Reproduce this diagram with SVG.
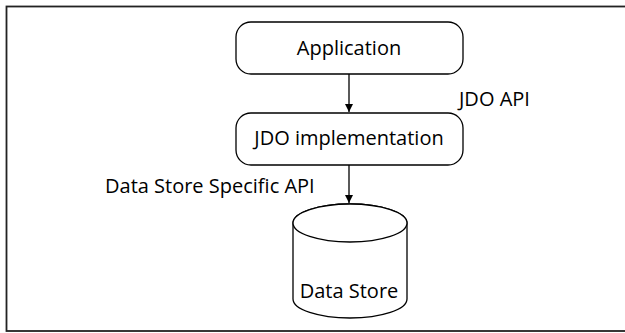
<svg xmlns="http://www.w3.org/2000/svg" width="625" height="333" viewBox="0 0 625 333">
<style>
.box{fill:#fff;stroke:#000;stroke-width:1.3}
.t{font-family:"Open Sans","Liberation Sans",sans-serif;font-size:20px;fill:#000}
.c{text-anchor:middle}
.ln{stroke:#000;stroke-width:1.3;fill:none}
</style>
<defs>
<marker id="ah" markerWidth="8" markerHeight="10" refX="8" refY="5" orient="auto" markerUnits="userSpaceOnUse">
<path d="M0,1 L8,5 L0,9 Z" fill="#000"/>
</marker>
</defs>
<rect x="6.5" y="6.5" width="630" height="324.5" fill="#fff" stroke="#222" stroke-width="1.8"/>
<g id="connectors">
<line class="ln" x1="349" y1="74" x2="349" y2="112" marker-end="url(#ah)"/>
<line class="ln" x1="349" y1="165" x2="349" y2="203" marker-end="url(#ah)"/>
<text class="t" x="459" y="106">JDO API</text>
<text class="t" x="105" y="193">Data Store Specific API</text>
</g>
<g id="application">
<rect class="box" x="236" y="22" width="227" height="52" rx="15"/>
<text class="t c" x="349" y="55">Application</text>
</g>
<g id="jdo-implementation">
<rect class="box" x="236" y="113" width="227" height="52" rx="15"/>
<text class="t c" x="349" y="145">JDO implementation</text>
</g>
<g id="data-store">
<path class="box" d="M293,223 L293,299 A57,19 0 0 0 407,299 L407,223 A57,19 0 0 0 293,223 Z"/>
<ellipse class="box" cx="350" cy="223" rx="57" ry="19"/>
<text class="t c" x="349" y="298">Data Store</text>
</g>
</svg>
